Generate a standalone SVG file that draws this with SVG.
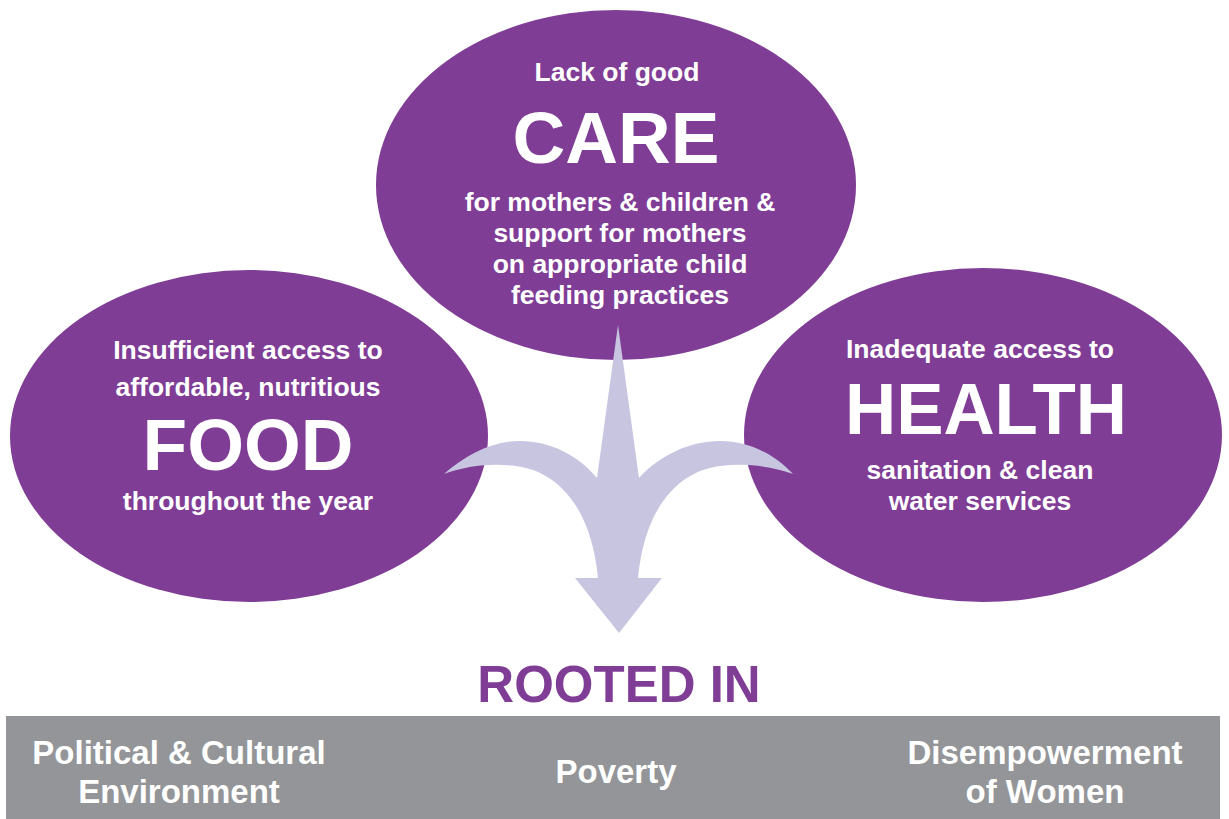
<svg xmlns="http://www.w3.org/2000/svg" width="1229" height="819" viewBox="0 0 1229 819">
<style>
.bub{fill:#7f3d96}
.t{font-family:"Liberation Sans",Arial,sans-serif;font-weight:bold;fill:#ffffff;text-anchor:middle}
.s{font-size:26.5px}
.big{font-size:73px}
.bar{font-size:33px}
.root{font-family:"Liberation Sans",Arial,sans-serif;font-weight:bold;fill:#7f3d96;text-anchor:middle;font-size:51px}
</style>
<rect width="1229" height="819" fill="#ffffff"/>
<g id="care">
<ellipse class="bub" cx="616" cy="185" rx="240" ry="175"/>
<text class="t s" x="617" y="81">Lack of good</text>
<text class="t big" x="616" y="163">CARE</text>
<text class="t s" x="620" y="211">for mothers &amp; children &amp;</text>
<text class="t s" x="620" y="242">support for mothers</text>
<text class="t s" x="620" y="273">on appropriate child</text>
<text class="t s" x="620" y="304">feeding practices</text>
</g>
<g id="food">
<ellipse class="bub" cx="249" cy="436" rx="239" ry="166"/>
<text class="t s" x="248" y="359">Insufficient access to</text>
<text class="t s" x="248" y="396">affordable, nutritious</text>
<text class="t big" x="248" y="470">FOOD</text>
<text class="t s" x="248" y="510">throughout the year</text>
</g>
<g id="health">
<ellipse class="bub" cx="983" cy="435" rx="239" ry="167"/>
<text class="t s" x="980" y="358">Inadequate access to</text>
<text class="t big" x="986" y="434" textLength="282" lengthAdjust="spacingAndGlyphs">HEALTH</text>
<text class="t s" x="980" y="479">sanitation &amp; clean</text>
<text class="t s" x="980" y="510">water services</text>
</g>
<g id="connectors">
<path fill="#c8c5e1" d="M618,325 L639,478 C660,455 690,441 720,441 C750,441 775,455 793,474 C770,466 745,463 720,466 C680,471 645,505 638,578 L662,578 L619,633 L575,578 L598,578 C591,505 556,471 516,466 C491,463 466,466 444,474 C466,455 492,441 520,441 C550,441 578,455 597,478 Z"/>
</g>
<g id="rooted">
<text class="root" x="619" y="702">ROOTED IN</text>
</g>
<g id="bar">
<rect x="6" y="716" width="1214" height="103" fill="#939598"/>
<g id="political">
<text class="t bar" x="179" y="764">Political &amp; Cultural</text>
<text class="t bar" x="179" y="803">Environment</text>
</g>
<g id="poverty">
<text class="t bar" x="616" y="783">Poverty</text>
</g>
<g id="women">
<text class="t bar" x="1045" y="764">Disempowerment</text>
<text class="t bar" x="1045" y="803">of Women</text>
</g>
</g>
</svg>
